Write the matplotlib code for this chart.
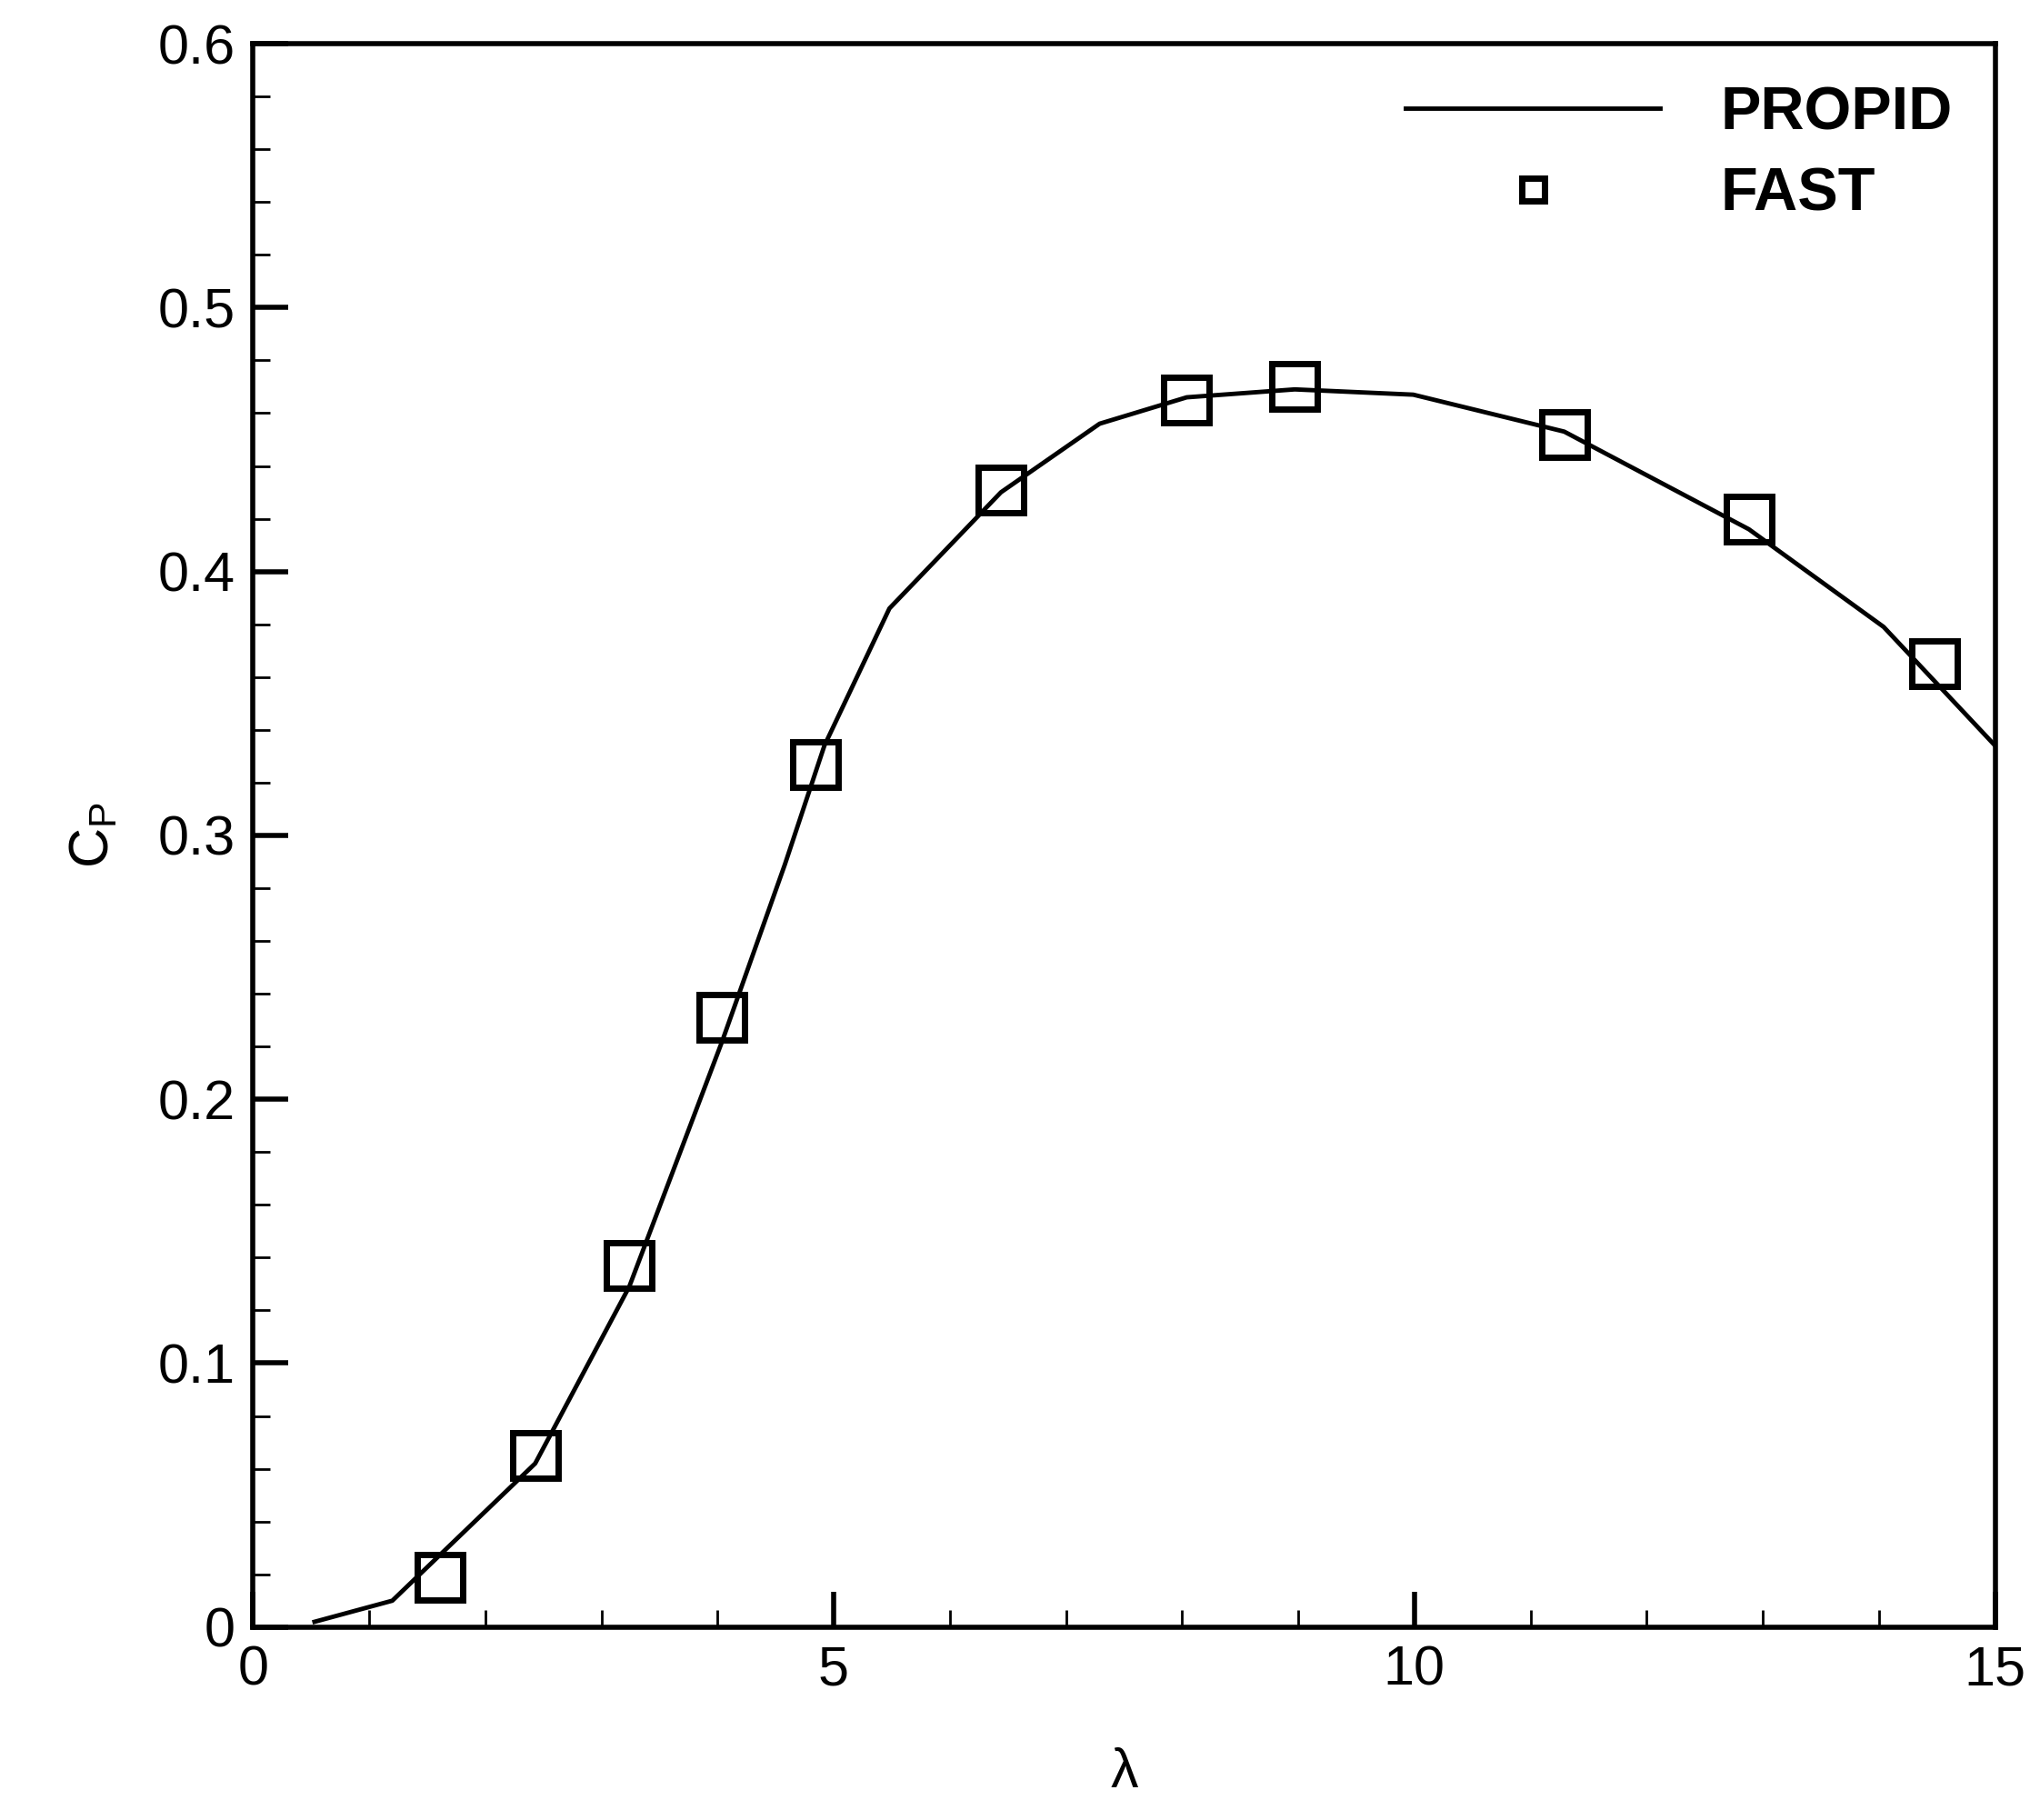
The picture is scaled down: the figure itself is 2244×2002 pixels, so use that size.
import matplotlib
matplotlib.use("Agg")
import matplotlib.pyplot as plt
from matplotlib.ticker import MultipleLocator

plt.rcParams['font.family'] = ['Liberation Sans', 'DejaVu Sans']

propid_x = [0.53, 1.2, 2.43, 3.24, 4.04, 4.58, 4.92, 5.48, 6.44, 7.29, 8.04, 8.97, 9.99, 11.29, 12.88, 14.04, 15.0]
propid_y = [0.002, 0.010, 0.062, 0.129, 0.222, 0.289, 0.334, 0.386, 0.430, 0.456, 0.466, 0.469, 0.467, 0.453, 0.416, 0.379, 0.334]
fast_x = [1.61, 2.43, 3.24, 4.04, 4.84, 6.44, 8.04, 8.97, 11.29, 12.88, 14.48]
fast_y = [0.019, 0.065, 0.137, 0.231, 0.327, 0.431, 0.465, 0.470, 0.452, 0.420, 0.365]

fig = plt.figure(figsize=(22.44, 20.02), dpi=100)
ax = fig.add_axes([0.124, 0.106, 0.854, 0.870])
ax.plot(propid_x, propid_y, color='black', lw=3.5, label='PROPID')
ax.plot(fast_x, fast_y, ls='none', marker='s', ms=36, mfc='none', mec='black', mew=5, label='FAST')
ax.set_xlim(0, 15)
ax.set_ylim(0, 0.6)
ax.xaxis.set_major_locator(MultipleLocator(5))
ax.xaxis.set_minor_locator(MultipleLocator(1))
ax.yaxis.set_major_locator(MultipleLocator(0.1))
ax.yaxis.set_minor_locator(MultipleLocator(0.02))
ax.set_xticklabels(['0', '5', '10', '15'] if False else None) if False else None
ax.xaxis.set_major_formatter(matplotlib.ticker.FuncFormatter(lambda v, p: f"{v:g}"))
ax.yaxis.set_major_formatter(matplotlib.ticker.FuncFormatter(lambda v, p: "0" if abs(v) < 1e-9 else f"{v:.1f}"))
ax.tick_params(which='major', direction='in', length=28, width=4, labelsize=44, pad=14)
ax.tick_params(which='minor', direction='in', length=14, width=2)
for s in ax.spines.values():
    s.set_linewidth(4)
ax.set_xlabel('λ', fontsize=44, labelpad=40)
ax.set_ylabel('C$_\\mathregular{P}$', fontsize=44, labelpad=30)
leg = ax.legend(loc='upper right', frameon=False, prop={'weight': 'bold', 'size': 48},
                handlelength=4.2, markerscale=0.5, labelspacing=0.4, borderaxespad=0.3, handletextpad=1.0)
fig.savefig('out.png', dpi=100)
